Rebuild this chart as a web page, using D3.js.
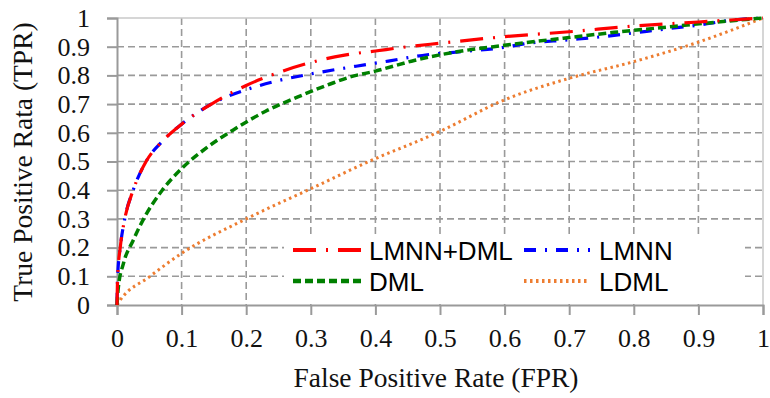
<!DOCTYPE html>
<html><head><meta charset="utf-8">
<script src="https://cdn.jsdelivr.net/npm/d3@7"></script>
<style>html,body{margin:0;padding:0;background:#fff;}svg{display:block;}</style>
</head><body>
<svg id="chart" width="770" height="398"></svg>
<script>
const xTicks = [0,0.1,0.2,0.3,0.4,0.5,0.6,0.7,0.8,0.9,1];
const yTicks = [0,0.1,0.2,0.3,0.4,0.5,0.6,0.7,0.8,0.9,1];
const seriesNames = ["LMNN+DML","LMNN","DML","LDML"];
const lmnnDml = [[0,0],[0.001,0.1],[0.005,0.2],[0.012,0.3],[0.025,0.4],[0.045,0.5],[0.07,0.57],[0.1,0.63],[0.15,0.705],[0.2,0.765],[0.25,0.81],[0.3,0.845],[0.35,0.87],[0.4,0.885],[0.45,0.9],[0.5,0.912],[0.6,0.935],[0.7,0.952],[0.8,0.972],[0.9,0.986],[1,1]];
const lmnn = [[0,0],[0.001,0.1],[0.005,0.2],[0.012,0.3],[0.025,0.4],[0.045,0.5],[0.07,0.57],[0.1,0.63],[0.15,0.705],[0.2,0.75],[0.25,0.782],[0.3,0.805],[0.37,0.832],[0.42,0.85],[0.48,0.872],[0.54,0.884],[0.6,0.898],[0.63,0.91],[0.7,0.924],[0.76,0.937],[0.8,0.948],[0.85,0.962],[0.9,0.975],[0.95,0.992],[1,1]];
const dml = [[0,0],[0.002,0.06],[0.01,0.145],[0.025,0.225],[0.04,0.295],[0.07,0.4],[0.1,0.475],[0.14,0.55],[0.18,0.61],[0.23,0.675],[0.28,0.725],[0.33,0.77],[0.36,0.794],[0.4,0.815],[0.46,0.852],[0.52,0.88],[0.6,0.905],[0.7,0.932],[0.77,0.95],[0.85,0.968],[0.93,0.986],[1,1]];
const ldml = [[0,0],[0.005,0.017],[0.05,0.098],[0.1,0.18],[0.2,0.3],[0.3,0.405],[0.4,0.51],[0.47,0.575],[0.5,0.605],[0.6,0.715],[0.7,0.79],[0.8,0.848],[0.9,0.916],[1,1]];

const svg = d3.select("#chart");
const L = 117, R = 763, T = 18, B = 305;
const x = d3.scaleLinear().domain([0,1]).range([L,R]);
const y = d3.scaleLinear().domain([0,1]).range([B,T]);
const gray = "#9a9a9a";

// grid
const grid = svg.append("g");
grid.selectAll(".gx").data(xTicks.slice(1,-1)).enter().append("line")
  .attr("x1",d=>x(d)).attr("x2",d=>x(d)).attr("y1",T).attr("y2",B)
  .attr("stroke",gray).attr("stroke-width",1.6).attr("stroke-dasharray","7,4");
grid.selectAll(".gy").data(yTicks.slice(1,-1)).enter().append("line")
  .attr("x1",L).attr("x2",R).attr("y1",d=>y(d)).attr("y2",d=>y(d))
  .attr("stroke",gray).attr("stroke-width",1.6).attr("stroke-dasharray","7,4");
// top and right borders
svg.append("line").attr("x1",L).attr("x2",R).attr("y1",T).attr("y2",T).attr("stroke","#c8c8c8").attr("stroke-width",1.5);
svg.append("line").attr("x1",R).attr("x2",R).attr("y1",T).attr("y2",B).attr("stroke","#c8c8c8").attr("stroke-width",1.5);

// legend background
svg.append("rect").attr("x",284).attr("y",235).attr("width",461).attr("height",67).attr("fill","#fff");

// axes
const fmt = d => d===0 ? "0" : d===1 ? "1" : d3.format(".1f")(d);
const xAxis = svg.append("g").attr("transform",`translate(0,${B})`)
  .call(d3.axisBottom(x).tickValues(xTicks).tickFormat(fmt).tickSize(10).tickPadding(14));
const yAxis = svg.append("g").attr("transform",`translate(${L},0)`)
  .call(d3.axisLeft(y).tickValues(yTicks).tickFormat(fmt).tickSize(10).tickPadding(17));
[xAxis,yAxis].forEach(a=>{
  a.select(".domain").attr("stroke",gray).attr("stroke-width",2);
  a.selectAll(".tick line").attr("stroke",gray).attr("stroke-width",2);
  a.selectAll(".tick text").attr("font-family","'Liberation Serif', 'Times New Roman', serif").attr("font-size",26).attr("fill","#111");
});

// curves
const line = d3.line().x(d=>x(d[0])).y(d=>y(d[1])).curve(d3.curveMonotoneX);
const styles = {
  "LMNN+DML": {data:lmnnDml, color:"#ff0000", dash:"23,10,2,10", w:3.2},
  "LMNN": {data:lmnn, color:"#0000ff", dash:"12,9,2,9", w:3.2},
  "DML": {data:dml, color:"#008000", dash:"8,4", w:3.5},
  "LDML": {data:ldml, color:"#ed7d31", dash:"2.5,3.5", w:3}
};
["LDML","LMNN","DML","LMNN+DML"].forEach(n=>{
  const s = styles[n];
  svg.append("path").datum(s.data).attr("d",line).attr("fill","none")
    .attr("stroke",s.color).attr("stroke-width",s.w).attr("stroke-dasharray",s.dash);
});

// legend
const legendPos = {
  "LMNN+DML":{x1:293,x2:362,ty:250,tx:369},
  "LMNN":{x1:524,x2:590,ty:250,tx:599},
  "DML":{x1:293,x2:362,ty:281,tx:369},
  "LDML":{x1:524,x2:590,ty:281,tx:599}
};
seriesNames.forEach(n=>{
  const s = styles[n], p = legendPos[n];
  svg.append("line").attr("x1",p.x1).attr("x2",p.x2).attr("y1",p.ty).attr("y2",p.ty)
    .attr("stroke",s.color).attr("stroke-width",s.w+0.8).attr("stroke-dasharray",s.dash);
  svg.append("text").attr("x",p.tx).attr("y",p.ty+9.5).text(n)
    .attr("font-family","'Liberation Sans', Arial, sans-serif").attr("font-size",26).attr("fill","#000");
});

// axis titles
svg.append("text").attr("x",436).attr("y",387).attr("text-anchor","middle")
  .attr("font-family","'Liberation Serif', 'Times New Roman', serif").attr("font-size",27.5).attr("fill","#111")
  .text("False Positive Rate (FPR)");
svg.append("text").attr("transform","translate(32,162) rotate(-90)").attr("text-anchor","middle")
  .attr("font-family","'Liberation Serif', 'Times New Roman', serif").attr("font-size",27.5).attr("fill","#111")
  .text("True Positive Rata (TPR)");
</script>
</body></html>
